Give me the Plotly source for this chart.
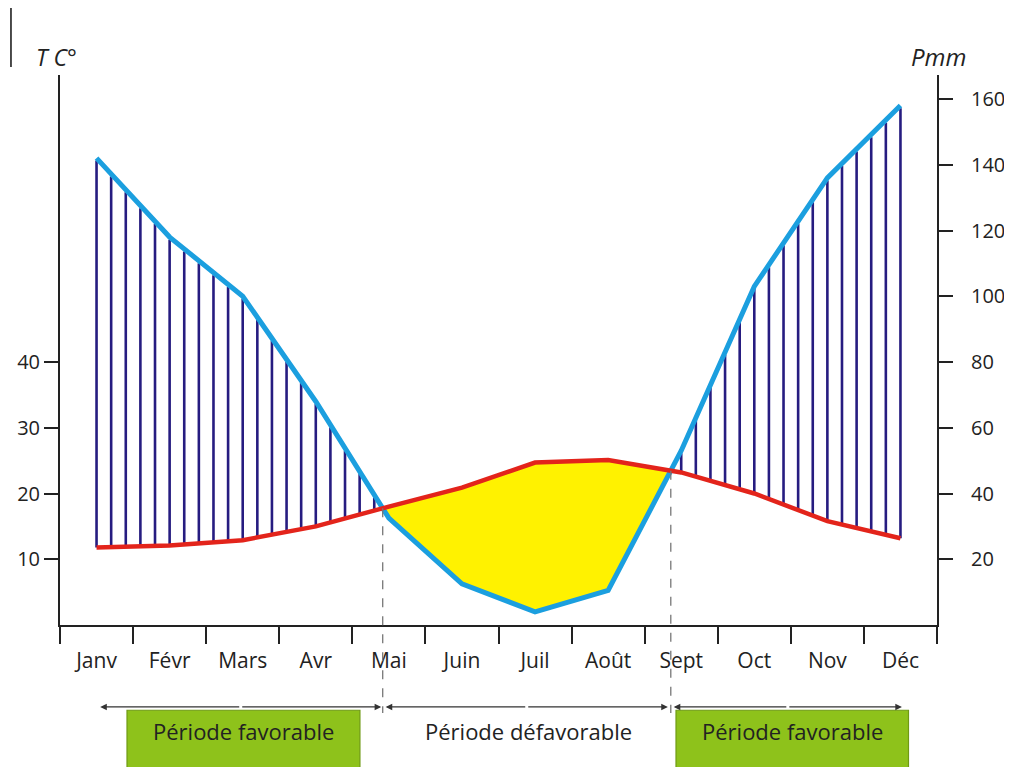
import numpy as np
import plotly.graph_objects as go

# ---- data ----
months = ["Janv", "Févr", "Mars", "Avr", "Mai", "Juin", "Juil", "Août", "Sept", "Oct", "Nov", "Déc"]
precip_mm = [142, 118, 100, 68, 32.5, 12.5, 4, 10.5, 53, 103, 136, 158]
temp_c = [11.8, 12.1, 12.9, 15.0, 18.0, 20.9, 24.7, 25.1, 23.2, 20.0, 15.8, 13.2]
temp_ticks = [10, 20, 30, 40]
precip_ticks = [20, 40, 60, 80, 100, 120, 140, 160]
period_labels = ["Période favorable", "Période défavorable", "Période favorable"]

FONT = "Open Sans"
BLUE = "#1B9FDF"
RED = "#E3241B"
NAVY = "#261C80"
YELLOW = "#FFF200"
GREEN = "#8EC21B"
AXC = "#222222"

xs = np.arange(len(months))
P = np.array(precip_mm, dtype=float)
T2 = 2 * np.array(temp_c, dtype=float)  # Gaussen: P = 2T

# hatching where P > 2T (5 strokes per month)
grid = np.round(np.arange(0, len(months) - 1 + 1e-6, 0.2), 4)
hx, hy = [], []
for g in grid:
    p = float(np.interp(g, xs, P))
    t = float(np.interp(g, xs, T2))
    if p > t + 0.5:
        hx += [g, g, None]
        hy += [t, p - 0.8, None]

# crossings of P and 2T
d = P - T2
cross = []
for i in range(len(months) - 1):
    if d[i] * d[i + 1] < 0:
        f = d[i] / (d[i] - d[i + 1])
        cross.append((i + f, T2[i] + f * (T2[i + 1] - T2[i]), i))

# dry period polygon (2T > P)
(c1x, c1y, i1), (c2x, c2y, i2) = cross[0], cross[1]
mid = list(range(i1 + 1, i2 + 1))
px = [c1x] + mid + [c2x] + mid[::-1] + [c1x]
py = [c1y] + [T2[m] for m in mid] + [c2y] + [P[m] for m in mid[::-1]] + [c1y]

YMAX_P = 167.3

fig = go.Figure()
fig.add_trace(go.Scatter(x=xs, y=temp_c, yaxis="y", mode="lines",
                         line=dict(width=0, color="rgba(0,0,0,0)"),
                         hoverinfo="skip", showlegend=False))
fig.add_trace(go.Scatter(x=px, y=py, yaxis="y2", mode="lines", fill="toself",
                         fillcolor=YELLOW, line=dict(width=0), hoverinfo="skip",
                         showlegend=False))
fig.add_trace(go.Scatter(x=hx, y=hy, yaxis="y2", mode="lines",
                         line=dict(color=NAVY, width=2.6), hoverinfo="skip",
                         showlegend=False))
fig.add_trace(go.Scatter(x=xs, y=P, yaxis="y2", mode="lines",
                         line=dict(color=BLUE, width=5), showlegend=False))
fig.add_trace(go.Scatter(x=xs, y=T2, yaxis="y2", mode="lines",
                         line=dict(color=RED, width=4.5), showlegend=False,
                         customdata=temp_c, hovertemplate="%{customdata} °C"))

shapes = []
annotations = []

# dashed verticals at crossings
PY_BOTTOM = -0.16
for cx, cy, _ in cross:
    shapes.append(dict(type="line", xref="x", yref="paper", x0=cx, x1=cx,
                       y0=cy / YMAX_P, y1=PY_BOTTOM,
                       line=dict(color="#777777", width=1.3, dash="dash")))

# double arrows
ARROW_Y = -0.149
PXM = 877 / 12.0
ends = [0.05, cross[0][0], cross[1][0], 11.02]
segs = [(ends[0], ends[1] - 0.02), (ends[1] + 0.04, ends[2] - 0.04), (ends[2] + 0.04, ends[3])]
for a, b in segs:
    m = (a + b) / 2
    for tip in (a, b):
        annotations.append(dict(x=tip, y=ARROW_Y, xref="x", yref="paper",
                                ax=(m - tip) * PXM, ay=0, axref="pixel", ayref="pixel",
                                showarrow=True, arrowhead=2, arrowsize=1.1,
                                arrowwidth=1.2, arrowcolor="#333333", text=""))

# green boxes + labels
boxes = [(0.0764, 0.342), (0.7024, 0.9675)]
for x0, x1 in boxes:
    shapes.append(dict(type="rect", xref="paper", yref="paper", x0=x0, x1=x1,
                       y0=-0.155, y1=-0.30, fillcolor=GREEN,
                       line=dict(color="#6F9A14", width=1.2), layer="above"))
label_x = [(boxes[0][0] + boxes[0][1]) / 2, 0.534, (boxes[1][0] + boxes[1][1]) / 2]
for lx, txt in zip(label_x, period_labels):
    annotations.append(dict(x=lx, y=-0.193, xref="paper", yref="paper",
                            text=txt, showarrow=False,
                            font=dict(family=FONT, size=22, color="#222222"),
                            xanchor="center", yanchor="middle"))

# axis titles
annotations.append(dict(x=-0.004, y=1.033, xref="paper", yref="paper", text="<i>T C°</i>",
                        showarrow=False, font=dict(family=FONT, size=23, color="#222222"),
                        xanchor="center", yanchor="middle"))
annotations.append(dict(x=1.002, y=1.033, xref="paper", yref="paper", text="<i>Pmm</i>",
                        showarrow=False, font=dict(family=FONT, size=24, color="#222222"),
                        xanchor="center", yanchor="middle"))

# small stroke at top-left
shapes.append(dict(type="line", xref="paper", yref="paper", x0=-0.0559, x1=-0.0559,
                   y0=1.122, y1=1.0145, line=dict(color="#111111", width=1.5)))

fig.update_layout(
    width=1004, height=759,
    margin=dict(l=52, r=75, t=67, b=142, autoexpand=False),
    paper_bgcolor="white", plot_bgcolor="white",
    showlegend=False,
    font=dict(family=FONT, color="#222222"),
    xaxis=dict(range=[-0.5, 11.5], tickmode="array", tickvals=list(xs), ticktext=months,
               automargin=False,
               ticks="outside", ticklen=16, tickcolor="rgba(0,0,0,0)",
               tickfont=dict(family=FONT, size=21, color="#222222"),
               showline=True, linecolor=AXC, linewidth=2, showgrid=False, zeroline=False,
               minor=dict(tickmode="array", tickvals=[i - 0.5 for i in range(len(months) + 1)],
                          ticks="outside", ticklen=17, tickwidth=2, tickcolor=AXC,
                          showgrid=False),
               fixedrange=True),
    yaxis=dict(range=[0, YMAX_P / 2], tickmode="array", tickvals=temp_ticks,
               automargin=False,
               ticks="outside", ticklen=14, tickwidth=2, tickcolor=AXC,
               tickfont=dict(family=FONT, size=20, color="#222222"),
               showline=True, linecolor=AXC, linewidth=2, showgrid=False, zeroline=False),
    yaxis2=dict(range=[0, YMAX_P], overlaying="y", side="right", anchor="x",
                automargin=False,
                tickmode="array", tickvals=precip_ticks,
                ticks="outside", ticklen=14, tickwidth=2, tickcolor=AXC,
                ticklabelstandoff=14,
                tickfont=dict(family=FONT, size=20, color="#222222"),
                showline=True, linecolor=AXC, linewidth=2, showgrid=False, zeroline=False),
    shapes=shapes,
    annotations=annotations,
)

fig.write_html("out.html")
